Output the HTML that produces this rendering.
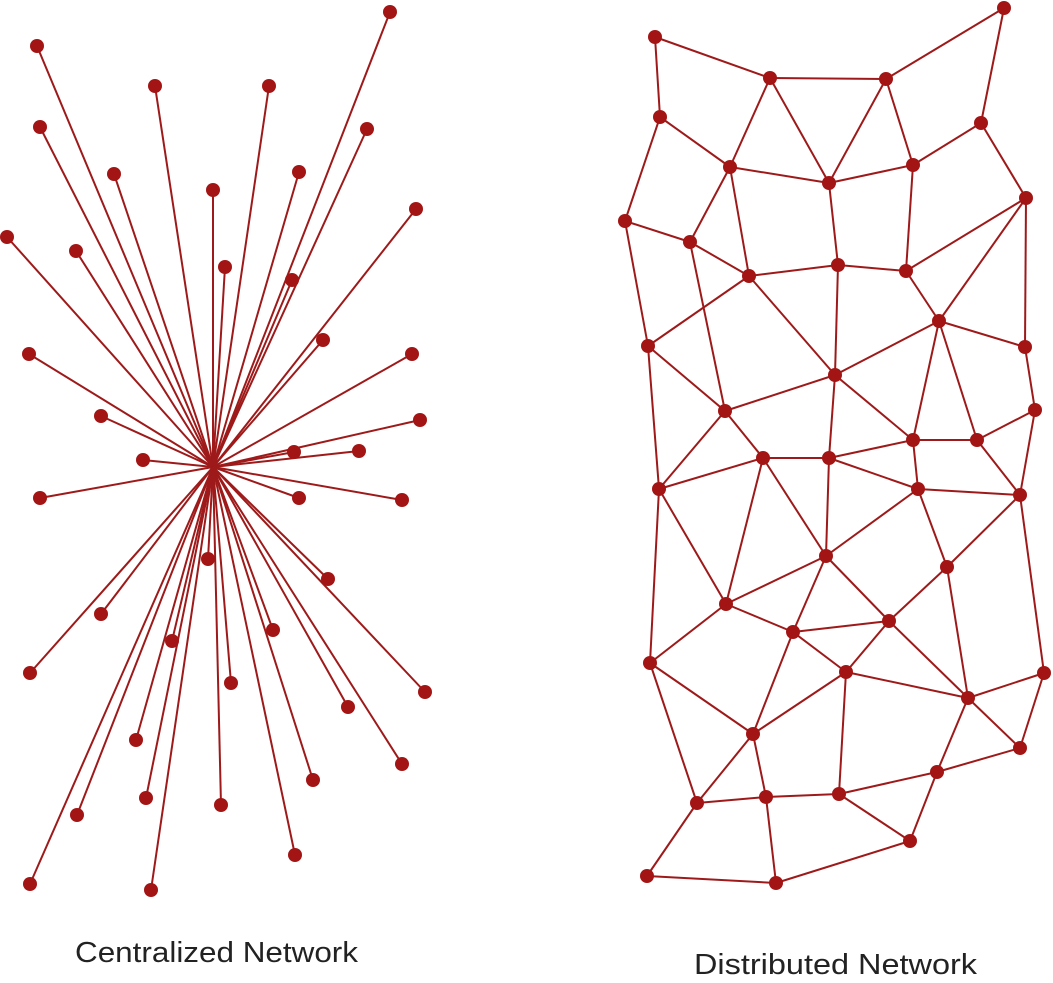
<!DOCTYPE html>
<html><head><meta charset="utf-8"><style>
html,body{margin:0;padding:0;background:#fff;}
svg{display:block;}
</style></head><body>
<svg width="1053" height="983" viewBox="0 0 1053 983" xmlns="http://www.w3.org/2000/svg">
<g id="c" stroke="#9e1a1a" stroke-width="2" fill="#a31515"></g>
<g id="d" stroke="#9e1a1a" stroke-width="2" fill="#a31515"></g>
<text x="75" y="962" font-family="Liberation Sans, sans-serif" font-size="29" fill="#222" textLength="283" lengthAdjust="spacingAndGlyphs">Centralized Network</text>
<text x="694" y="974" font-family="Liberation Sans, sans-serif" font-size="29" fill="#222" textLength="283" lengthAdjust="spacingAndGlyphs">Distributed Network</text>
<script>
var NS="http://www.w3.org/2000/svg";
function line(g,a,b){var l=document.createElementNS(NS,"line");l.setAttribute("x1",a[0]);l.setAttribute("y1",a[1]);l.setAttribute("x2",b[0]);l.setAttribute("y2",b[1]);g.appendChild(l);}
function dot(g,p){var c=document.createElementNS(NS,"circle");c.setAttribute("cx",p[0]);c.setAttribute("cy",p[1]);c.setAttribute("r",7);c.setAttribute("stroke","none");g.appendChild(c);}
var gc=document.getElementById("c"),gd=document.getElementById("d");
var C=[213,467];
var cn=[[390,12],[37,46],[155,86],[269,86],[40,127],[367,129],[114,174],[299,172],[213,190],[416,209],[7,237],[76,251],[225,267],[292,280],[323,340],[29,354],[412,354],[101,416],[420,420],[143,460],[294,452],[359,451],[40,498],[299,498],[402,500],[208,559],[328,579],[101,614],[273,630],[172,641],[30,673],[231,683],[425,692],[348,707],[136,740],[402,764],[313,780],[146,798],[221,805],[77,815],[295,855],[30,884],[151,890]];
cn.forEach(function(p){line(gc,C,p);});
cn.forEach(function(p){dot(gc,p);});
var N={A:[655,37],B:[1004,8],C:[770,78],D:[886,79],E:[660,117],F:[981,123],G:[730,167],H:[829,183],I:[913,165],J:[1026,198],K:[625,221],L:[690,242],M:[749,276],N:[838,265],O:[906,271],P:[939,321],Q:[1025,347],R:[648,346],S:[835,375],T:[1035,410],U:[725,411],V:[913,440],W:[977,440],X:[763,458],Y:[829,458],Z:[918,489],AA:[1020,495],AB:[659,489],AC:[826,556],AD:[947,567],AE:[726,604],AF:[793,632],AG:[889,621],AH:[650,663],AI:[846,672],AJ:[1044,673],AK:[968,698],AL:[753,734],AM:[1020,748],AN:[937,772],AO:[697,803],AP:[766,797],AQ:[839,794],AR:[910,841],AS:[647,876],AT:[776,883]};
var E="A-C A-E C-D D-B B-F C-G C-H D-H D-I E-G E-K G-H H-I I-F F-J G-L G-M K-L K-R L-M L-U M-N N-O H-N I-O O-J J-P J-Q M-R M-S N-S O-P P-V P-W P-S P-Q Q-T T-W W-V T-AA W-AA V-Y V-Z S-V S-U S-Y R-U R-AB U-X U-AB X-AB X-Y X-AE X-AC Y-AC Y-Z Z-AA Z-AC Z-AD AA-AD AA-AJ AD-AK AB-AE AB-AH AE-AC AC-AF AC-AG AE-AF AF-AG AD-AG AE-AH AF-AI AG-AI AG-AK AI-AK AK-AJ AK-AM AJ-AM AK-AN AN-AM AN-AR AN-AQ AQ-AR AQ-AI AQ-AP AP-AL AP-AO AP-AT AL-AF AL-AI AL-AH AL-AO AH-AO AO-AS AS-AT AT-AR".split(" ");
E.forEach(function(e){var s=e.split("-");line(gd,N[s[0]],N[s[1]]);});
for(var k in N)dot(gd,N[k]);
</script>
</svg>
</body></html>
